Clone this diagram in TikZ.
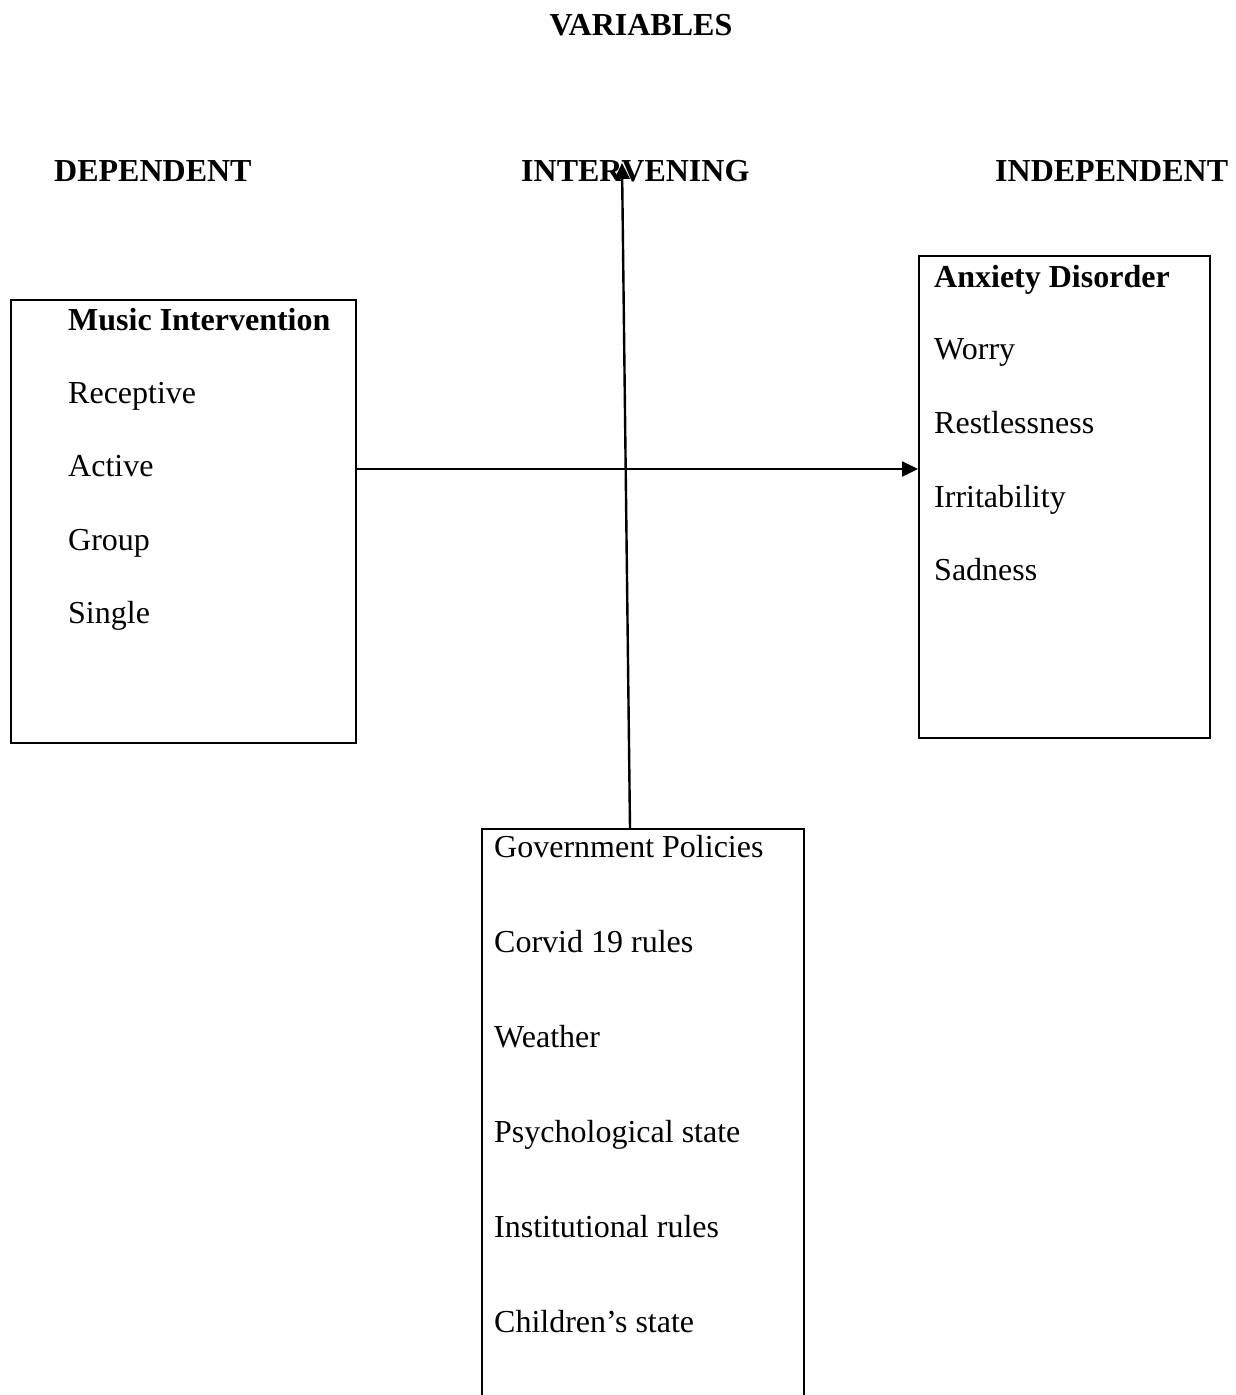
\documentclass[tikz,border=0pt]{standalone}
\usepackage{fontspec}
\setmainfont{Liberation Serif}
\usetikzlibrary{arrows.meta}
\begin{document}
\begin{tikzpicture}[x=1pt,y=-1pt,
  box/.style={draw,line width=2.4pt,inner sep=0pt,anchor=north west},
  txt/.style={anchor=base west,inner sep=0pt,font=\fontsize{32}{38}\selectfont},
  btxt/.style={txt,font=\fontsize{32}{38}\selectfont\bfseries},
  conn/.style={line width=2.4pt,-{Triangle[length=16pt,width=15pt]}}]
\clip (0,0) rectangle (1236,1395);
\fill[white] (0,0) rectangle (1236,1395);
% headings
\node[btxt,anchor=base] (title) at (641,35) {VARIABLES};
\node[btxt] (hdep) at (54,181) {DEPENDENT};
\node[btxt] (hint) at (521,181) {INTERVENING};
\node[btxt] (hind) at (995,181) {INDEPENDENT};
% boxes
\node[box,minimum width=345pt,minimum height=443pt] (dep) at (10,299) {};
\node[box,minimum width=291pt,minimum height=482pt] (ind) at (918,255) {};
\node[box,minimum width=322pt,minimum height=620pt] (gov) at (481,828) {};
% left box text
\node[btxt] (m0) at (68,330) {Music Intervention};
\node[txt] (m1) at (68,403) {Receptive};
\node[txt] (m2) at (68,476) {Active};
\node[txt] (m3) at (68,550) {Group};
\node[txt] (m4) at (68,623) {Single};
% right box text
\node[btxt] (a0) at (934,287) {Anxiety Disorder};
\node[txt] (a1) at (934,359) {Worry};
\node[txt] (a2) at (934,433) {Restlessness};
\node[txt] (a3) at (934,507) {Irritability};
\node[txt] (a4) at (934,580) {Sadness};
% bottom box text
\node[txt] (g1) at (494,857) {Government Policies};
\node[txt] (g2) at (494,952) {Corvid 19 rules};
\node[txt] (g3) at (494,1047) {Weather};
\node[txt] (g4) at (494,1142) {Psychological state};
\node[txt] (g5) at (494,1237) {Institutional rules};
\node[txt] (g6) at (494,1332) {Children’s state};
% connectors
\coordinate (hy) at (0,469);
\coordinate (vstart) at (630,828);
\coordinate (vend) at (622,163);
\draw[conn] (dep.east |- hy) -- (ind.west |- hy);
\draw[conn] (vstart) -- (vend);
\end{tikzpicture}
\end{document}
